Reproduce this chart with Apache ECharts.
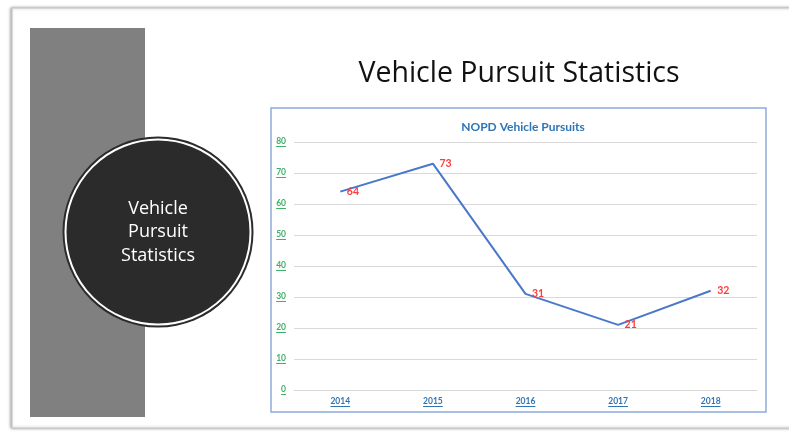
<!DOCTYPE html>
<html>
<head>
<meta charset="utf-8">
<style>
  html, body { margin: 0; padding: 0; background: #fff; }
  #chart { width: 789px; height: 432px; }
</style>
<script src="https://cdn.jsdelivr.net/npm/echarts@6/dist/echarts.min.js"></script>
</head>
<body>
<div id="chart"></div>
<script>
const years = ['2014', '2015', '2016', '2017', '2018']
const pursuits = [64, 73, 31, 21, 32]
const yTicks = { min: 0, max: 80, interval: 10 }

// thin coloured line under a label, drawn as a gradient background
const underline = (color) => new echarts.graphic.LinearGradient(0, 0, 0, 1, [
  { offset: 0, color: 'rgba(0,0,0,0)' },
  { offset: 0.88, color: 'rgba(0,0,0,0)' },
  { offset: 0.88, color: color },
  { offset: 1, color: color }
])

const chart = echarts.init(document.getElementById('chart'))

chart.setOption({
  backgroundColor: '#fff',
  animation: false,
  title: {
    text: 'NOPD Vehicle Pursuits',
    left: 518,
    top: 116,
    textAlign: 'center',
    textStyle: { fontFamily: 'Lato', fontSize: 12, fontWeight: 'bold', color: '#2e75b6' }
  },
  grid: { left: 294, right: 32, top: 142, bottom: 42 },
  xAxis: {
    type: 'category',
    data: years,
    axisLine: { lineStyle: { color: '#d9d9d9' } },
    axisTick: { show: false },
    axisLabel: {
      margin: 7,
      formatter: (v) => '{u|' + v + '}',
      rich: {
        u: {
          fontFamily: 'Lato', fontSize: 8.5, fontWeight: 'bold', color: '#2e75b6',
          backgroundColor: underline('#2e75b6'), padding: [0, 0, 1, 0]
        }
      }
    }
  },
  yAxis: {
    type: 'value',
    min: yTicks.min,
    max: yTicks.max,
    interval: yTicks.interval,
    axisLine: { show: false },
    axisTick: { show: false },
    splitLine: { lineStyle: { color: '#d9d9d9' } },
    axisLabel: {
      margin: 8,
      formatter: (v) => '{u|' + v + '}',
      rich: {
        u: {
          fontFamily: 'Lato', fontSize: 8.5, fontWeight: 'bold', color: '#3fb068',
          backgroundColor: underline('#3fb068'), padding: [0, 0, 1, 0]
        }
      }
    }
  },
  series: [{
    type: 'line',
    data: pursuits,
    symbol: 'circle',
    symbolSize: 1,
    showSymbol: true,
    itemStyle: { color: 'rgba(68,114,196,0)' },
    lineStyle: { color: '#4a78c8', width: 2 },
    label: {
      show: true,
      position: 'right',
      distance: 6,
      fontFamily: 'Lato',
      fontSize: 10.5,
      fontWeight: 'bold',
      color: '#ff3b3b'
    },
    z: 5
  }],
  graphic: [
    // slide frame
    { type: 'rect', shape: { x: 12, y: 8, width: 800, height: 420 }, style: { fill: '#fff', stroke: '#c8c8c8', lineWidth: 1, shadowBlur: 3, shadowColor: 'rgba(0,0,0,0.35)', shadowOffsetX: -1 }, z: -10 },
    { type: 'rect', shape: { x: 30, y: 28, width: 115, height: 389 }, style: { fill: '#808080' }, z: -5 },
    { type: 'circle', shape: { cx: 158, cy: 232, r: 95.5 }, style: { fill: '#2b2b2b' }, z: -4 },
    { type: 'circle', shape: { cx: 158, cy: 232, r: 92.5 }, style: { fill: '#2b2b2b', stroke: '#fff', lineWidth: 2 }, z: -3 },
    {
      type: 'text', x: 158, y: 232, z: -2,
      style: {
        text: 'Vehicle\nPursuit\nStatistics', align: 'center', verticalAlign: 'middle',
        fontFamily: 'Open Sans', fontSize: 18, lineHeight: 23.5, fill: '#fff'
      }
    },
    {
      type: 'text', x: 519, y: 74, z: -2,
      style: {
        text: 'Vehicle Pursuit Statistics', align: 'center', verticalAlign: 'middle',
        fontFamily: 'Open Sans', fontSize: 28.5, fill: '#111'
      }
    },
    // chart box
    { type: 'rect', shape: { x: 271, y: 108, width: 495, height: 304 }, style: { fill: '#fff', stroke: '#8eaadb', lineWidth: 1.5 }, z: -2 }
  ]
})
</script>
</body>
</html>
